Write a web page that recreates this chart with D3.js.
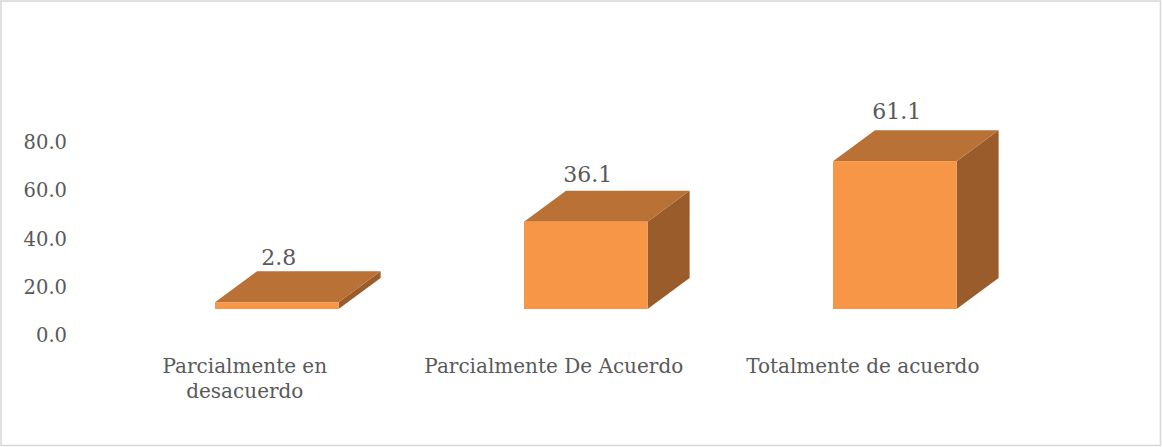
<!DOCTYPE html>
<html>
<head>
<meta charset="utf-8">
<script src="https://cdn.jsdelivr.net/npm/d3@7"></script>
<style>
  html, body { margin: 0; padding: 0; background: #fff; }
  svg { display: block; }
  text { font-family: "DejaVu Serif", "Liberation Serif", serif; fill: #595959; }
</style>
</head>
<body>
<svg id="chart" width="1162" height="447"></svg>
<script>
// Response categories, percentages and value-axis ticks
const categories = ["Parcialmente en desacuerdo", "Parcialmente De Acuerdo", "Totalmente de acuerdo"];
const categoryLines = [["Parcialmente en", "desacuerdo"], ["Parcialmente De Acuerdo"], ["Totalmente de acuerdo"]];
const values = [2.8, 36.1, 61.1];
const tickValues = [0, 20, 40, 60, 80];

const svg = d3.select("#chart");

// chart frame
svg.append("rect")
  .attr("x", 1).attr("y", 1)
  .attr("width", 1159.5).attr("height", 444.5)
  .attr("fill", "#fff").attr("stroke", "#d9d9d9").attr("stroke-width", 1.6);

const x = d3.scaleBand().domain(categories).range([122.3, 1049.3])
  .paddingInner(0.6).paddingOuter(0.3);
const y = d3.scaleLinear().domain([0, 80]).range([309, 309 - 80 * 2.42]);

// oblique depth of the 3D boxes
const dx = 42, dy = -31;
// value axis sits on the back wall, below the front floor line
const axisShift = 26;

const axis = d3.axisLeft(y).tickValues(tickValues).tickFormat(d3.format(".1f")).tickSize(0).tickPadding(0);
const ag = svg.append("g").attr("transform", `translate(67,${axisShift})`).call(axis);
ag.select(".domain").remove();
ag.selectAll("text")
  .style("font-family", "\"DejaVu Serif\", serif")
  .style("font-size", "19.5px").style("fill", "#595959")
  .attr("dy", "0.35em");

const bars = svg.append("g").selectAll("g").data(categories).join("g");

bars.each(function (c, i) {
  const g = d3.select(this);
  const x0 = x(c), x1 = x(c) + x.bandwidth();
  const yt = y(values[i]), yb = y(0);
  // right side face
  g.append("path")
    .attr("d", `M${x1},${yb} L${x1},${yt} L${x1 + dx},${yt + dy} L${x1 + dx},${yb + dy} Z`)
    .attr("fill", "#9b5c2b");
  // top face
  g.append("path")
    .attr("d", `M${x0},${yt} L${x0 + dx},${yt + dy} L${x1 + dx},${yt + dy} L${x1},${yt} Z`)
    .attr("fill", "#b97136");
  // front face
  g.append("rect")
    .attr("x", x0).attr("y", yt)
    .attr("width", x.bandwidth()).attr("height", yb - yt)
    .attr("fill", "#f79646");
  // value label, lifted a little more on taller boxes (perspective)
  g.append("text")
    .attr("x", x0 + x.bandwidth() / 2 + 2)
    .attr("y", yt + dy - 6 - (yb - yt) * 0.033)
    .attr("text-anchor", "middle")
    .style("font-size", "22px")
    .text(values[i].toFixed(1));
});

// category labels
const cg = svg.append("g");
categories.forEach((c, i) => {
  const cx = x(c) + x.bandwidth() / 2 - 32;
  const t = cg.append("text")
    .attr("text-anchor", "middle")
    .style("font-size", "20px");
  categoryLines[i].forEach((line, j) => {
    t.append("tspan").attr("x", cx).attr("y", 373 + j * 25).text(line);
  });
});
</script>
</body>
</html>
